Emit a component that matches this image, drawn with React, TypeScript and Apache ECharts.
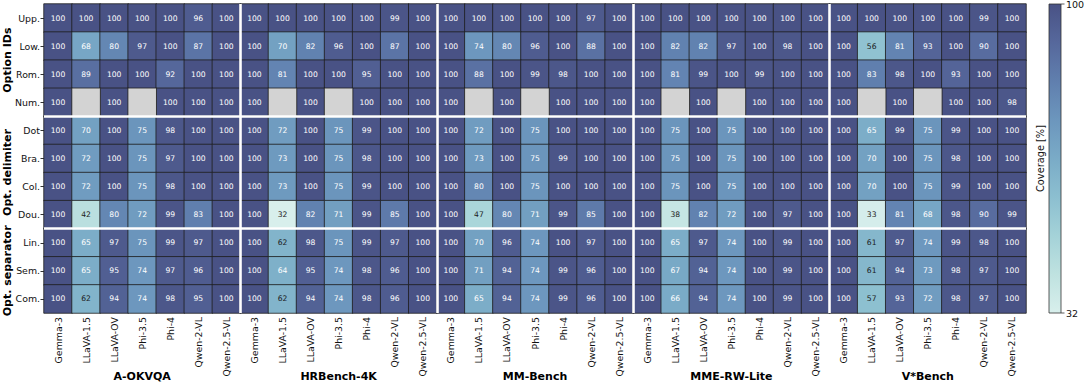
import React, { useEffect, useRef } from 'react';
import * as echarts from 'echarts';

const models = ['Gemma-3', 'LLaVA-1.5', 'LLaVA-OV', 'Phi-3.5', 'Phi-4', 'Qwen-2-VL', 'Qwen-2.5-VL'];
const benchmarks = ['A-OKVQA', 'HRBench-4K', 'MM-Bench', 'MME-RW-Lite', 'V*Bench'];
const rowLabels = ['Upp.', 'Low.', 'Rom.', 'Num.', 'Dot', 'Bra.', 'Col.', 'Dou.', 'Lin.', 'Sem.', 'Com.'];
const groupNames = ['Option IDs', 'Opt. delimiter', 'Opt. separator'];
const groupSizes = [4, 4, 3];

const aokvqa = [
  [100, 100, 100, 100, 100, 96, 100],
  [100, 68, 80, 97, 100, 87, 100],
  [100, 89, 100, 100, 92, 100, 100],
  [100, null, 100, null, 100, 100, 100],
  [100, 70, 100, 75, 98, 100, 100],
  [100, 72, 100, 75, 97, 100, 100],
  [100, 72, 100, 75, 98, 100, 100],
  [100, 42, 80, 72, 99, 83, 100],
  [100, 65, 97, 75, 99, 97, 100],
  [100, 65, 95, 74, 97, 96, 100],
  [100, 62, 94, 74, 98, 95, 100],
];
const hrbench = [
  [100, 100, 100, 100, 100, 99, 100],
  [100, 70, 82, 96, 100, 87, 100],
  [100, 81, 100, 100, 95, 100, 100],
  [100, null, 100, null, 100, 100, 100],
  [100, 72, 100, 75, 99, 100, 100],
  [100, 73, 100, 75, 98, 100, 100],
  [100, 73, 100, 75, 99, 100, 100],
  [100, 32, 82, 71, 99, 85, 100],
  [100, 62, 98, 75, 99, 97, 100],
  [100, 64, 95, 74, 98, 96, 100],
  [100, 62, 94, 74, 98, 96, 100],
];
const mmbench = [
  [100, 100, 100, 100, 100, 97, 100],
  [100, 74, 80, 96, 100, 88, 100],
  [100, 88, 100, 99, 98, 100, 100],
  [100, null, 100, null, 100, 100, 100],
  [100, 72, 100, 75, 100, 100, 100],
  [100, 73, 100, 75, 99, 100, 100],
  [100, 80, 100, 75, 100, 100, 100],
  [100, 47, 80, 71, 99, 85, 100],
  [100, 70, 96, 74, 100, 97, 100],
  [100, 71, 94, 74, 99, 96, 100],
  [100, 65, 94, 74, 99, 96, 100],
];
const mmerw = [
  [100, 100, 100, 100, 100, 100, 100],
  [100, 82, 82, 97, 100, 98, 100],
  [100, 81, 99, 100, 99, 100, 100],
  [100, null, 100, null, 100, 100, 100],
  [100, 75, 100, 75, 100, 100, 100],
  [100, 75, 100, 75, 100, 100, 100],
  [100, 75, 100, 75, 100, 100, 100],
  [100, 38, 82, 72, 100, 97, 100],
  [100, 65, 97, 74, 100, 99, 100],
  [100, 67, 94, 74, 100, 99, 100],
  [100, 66, 94, 74, 100, 99, 100],
];
const vstar = [
  [100, 100, 100, 100, 100, 99, 100],
  [100, 56, 81, 93, 100, 90, 100],
  [100, 83, 98, 100, 93, 100, 100],
  [100, null, 100, null, 100, 100, 98],
  [100, 65, 99, 75, 99, 100, 100],
  [100, 70, 100, 75, 98, 100, 100],
  [100, 70, 100, 75, 99, 100, 100],
  [100, 33, 81, 68, 98, 90, 99],
  [100, 61, 97, 74, 99, 98, 100],
  [100, 61, 94, 73, 98, 97, 100],
  [100, 57, 93, 72, 98, 97, 100],
];
const panels = [aokvqa, hrbench, mmbench, mmerw, vstar];

const cMin = 32;
const cMax = 100;
const rampColors = ['#d8efec', '#bfe2e0', '#a4d2d8', '#8cbfd0', '#7aabc7', '#6c96bd', '#607fae', '#56689c', '#495285'];
const missingColor = '#d3d3d3';

const FONT = 'DejaVu Sans';
const G = { left: 44, top: 4, width: 982, height: 309 };

export default function App() {
  const ref = useRef<HTMLDivElement>(null);
  useEffect(() => {
    if (!ref.current) return;
    const chart = echarts.init(ref.current, undefined, { renderer: 'svg' });
    const nM = models.length;
    const nCols = nM * panels.length;
    const nRows = rowLabels.length;

    const cells: any[] = [];
    const missing: any[] = [];
    panels.forEach((tbl, p) => {
      tbl.forEach((row, r) => {
        row.forEach((v, m) => {
          const x = p * nM + m;
          if (v === null) {
            missing.push({ value: [x, r, 1] });
          } else {
            cells.push({ value: [x, r, v], label: { color: v < 63.5 ? '#1a1a1a' : '#ffffff' } });
          }
        });
      });
    });

    const sepLines: any[] = [];
    for (let p = 1; p < panels.length; p++) sepLines.push({ coords: [[p * nM, 0], [p * nM, nRows]] });
    let acc = 0;
    for (let g = 0; g < groupSizes.length - 1; g++) {
      acc += groupSizes[g];
      sepLines.push({ coords: [[0, acc], [nCols, acc]] });
    }

    const rowH = G.height / nRows;
    const graphics: any[] = [];
    let start = 0;
    groupNames.forEach((name, g) => {
      const end = start + groupSizes[g];
      graphics.push({
        type: 'text', x: 7, y: G.top + ((start + end) / 2) * rowH, rotation: Math.PI / 2,
        style: { text: name, fontSize: 11, fontWeight: 'bold', fontFamily: FONT, fill: '#000', align: 'center', verticalAlign: 'middle' },
      });
      start = end;
    });

    const cbX = 1049, cbW = 12;
    graphics.push({
      type: 'rect', shape: { x: cbX, y: G.top, width: cbW, height: G.height },
      style: {
        fill: new echarts.graphic.LinearGradient(0, 0, 0, 1,
          rampColors.slice().reverse().map((c, i, arr) => ({ offset: i / (arr.length - 1), color: c }))),
        stroke: '#333', lineWidth: 0.8,
      },
    });
    [[G.top, cMax], [G.top + G.height, cMin]].forEach(([y, v]) => {
      graphics.push({ type: 'line', shape: { x1: cbX + cbW, y1: y, x2: cbX + cbW + 3.5, y2: y }, style: { stroke: '#333', lineWidth: 0.8 } });
      graphics.push({ type: 'text', x: cbX + cbW + 5, y, style: { text: String(v), fontSize: 9.5, fontFamily: FONT, fill: '#111', verticalAlign: 'middle' } });
    });
    graphics.push({
      type: 'text', x: 1040, y: G.top + G.height / 2, rotation: Math.PI / 2,
      style: { text: 'Coverage [%]', fontSize: 9.8, fontFamily: FONT, fill: '#111', align: 'center', verticalAlign: 'middle' },
    });

    chart.setOption({
      animation: false,
      textStyle: { fontFamily: FONT },
      grid: { left: G.left, top: G.top, width: G.width, height: G.height, containLabel: false },
      xAxis: [
        {
          type: 'category', data: benchmarks.flatMap(() => models), position: 'bottom',
          axisLine: { show: false }, axisTick: { show: true, length: 3.5, alignWithLabel: true, lineStyle: { color: '#333' } },
          axisLabel: { rotate: 90, fontSize: 9.4, color: '#111', margin: 4, interval: 0, fontFamily: FONT },
          splitLine: { show: false },
        },
        { type: 'value', min: 0, max: nCols, show: false },
        {
          type: 'category', data: benchmarks, position: 'bottom', offset: 58,
          axisLine: { show: false }, axisTick: { show: false },
          axisLabel: { fontSize: 11, fontWeight: 'bold', color: '#000', margin: 0, interval: 0, fontFamily: FONT },
        },
      ],
      yAxis: [
        {
          type: 'category', data: rowLabels, inverse: true,
          axisLine: { show: false }, axisTick: { show: true, length: 3.5, alignWithLabel: true, lineStyle: { color: '#333' } },
          axisLabel: { fontSize: 9.4, color: '#111', margin: 4, interval: 0, fontFamily: FONT },
          splitLine: { show: false },
        },
        { type: 'value', min: 0, max: nRows, inverse: true, show: false },
      ],
      visualMap: [
        {
          type: 'continuous', min: cMin, max: cMax, show: false, seriesIndex: 0, dimension: 2,
          inRange: { color: rampColors },
        },
        {
          type: 'continuous', min: 0, max: 2, show: false, seriesIndex: 1, dimension: 2,
          inRange: { color: [missingColor, missingColor] },
        },
      ],
      series: [
        {
          type: 'heatmap', data: cells, xAxisIndex: 0, yAxisIndex: 0,
          itemStyle: { borderColor: '#1e1e1e', borderWidth: 0.8 },
          label: { show: true, fontSize: 7.6, fontFamily: FONT, formatter: (p: any) => String(p.value[2]) },
          emphasis: { disabled: true },
        },
        {
          type: 'heatmap', data: missing, xAxisIndex: 0, yAxisIndex: 0,
          itemStyle: { borderColor: '#1e1e1e', borderWidth: 0.8 },
          label: { show: false },
          emphasis: { disabled: true },
        },
        {
          type: 'lines', coordinateSystem: 'cartesian2d', xAxisIndex: 1, yAxisIndex: 1,
          data: sepLines, silent: true, z: 10,
          lineStyle: { color: '#ffffff', width: 2.6, opacity: 1 },
        },
      ],
      graphic: graphics,
    });
    return () => chart.dispose();
  }, []);
  return <div ref={ref} style={{ position: 'absolute', left: 0, top: 0, width: 1084, height: 385 }} />;
}
